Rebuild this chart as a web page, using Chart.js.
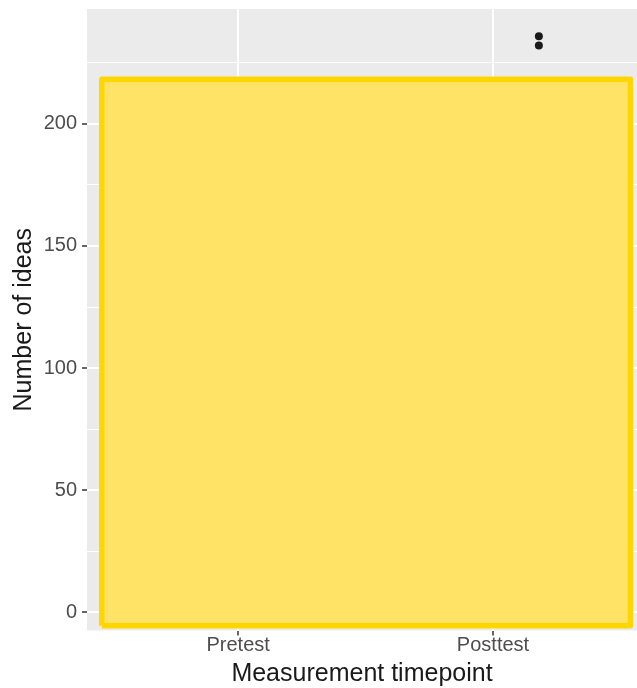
<!DOCTYPE html>
<html>
<head>
<meta charset="utf-8">
<script src="https://cdn.jsdelivr.net/npm/chart.js@4"></script>
<style>
  html, body { margin: 0; padding: 0; background: #fff; }
  canvas { display: block; }
</style>
</head>
<body>
<canvas id="chart" width="637" height="688"></canvas>
<script>
// categories on the x axis
const categories = ['Pretest', 'Posttest'];
const categoryPos = [1, 2];
// labelled y ticks
const yTickValues = [0, 50, 100, 150, 200];
// outlier points (Posttest)
const outlierX = [2.18, 2.18];
const outlierY = [235.8, 232.1];
// yellow box: x extent and y extent
const boxX = [0.465, 2.539];
const boxY = [-5.5, 218.2];

const panelGrey = '#EBEBEB';
const boxFill = 'rgb(255,227,102)';
const boxLine = 'rgb(255,214,0)';
const font = 'Liberation Sans, Arial, sans-serif';

// minor grid lines sit half way between the labelled ticks
const yGrid = [];
yTickValues.forEach(v => { yGrid.push(v); yGrid.push(v + 25); });

const panelBg = {
  id: 'panelBg',
  beforeDraw(chart) {
    const a = chart.chartArea;
    const c = chart.ctx;
    c.save();
    c.fillStyle = panelGrey;
    c.fillRect(a.left, a.top, a.right - a.left, a.bottom - a.top);
    c.restore();
  }
};

const ctx = document.getElementById('chart');

new Chart(ctx, {
  type: 'line',
  data: {
    datasets: [{
      // outliers, on top
      data: outlierX.map((x, i) => ({ x: x, y: outlierY[i] })),
      showLine: false,
      pointRadius: 4,
      pointBackgroundColor: '#1a1a1a',
      pointBorderWidth: 0
    }, {
      // box outline
      data: [
        { x: boxX[0], y: boxY[0] }, { x: boxX[0], y: boxY[1] },
        { x: boxX[1], y: boxY[1] }, { x: boxX[1], y: boxY[0] },
        { x: boxX[0], y: boxY[0] }
      ],
      borderColor: boxLine,
      borderWidth: 5.5,
      borderJoinStyle: 'round',
      pointRadius: 0,
      fill: false
    }, {
      // box fill
      data: [{ x: boxX[0], y: boxY[1] }, { x: boxX[1], y: boxY[1] }],
      borderWidth: 0,
      pointRadius: 0,
      backgroundColor: boxFill,
      fill: { value: boxY[0] }
    }]
  },
  options: {
    responsive: false,
    animation: false,
    devicePixelRatio: 1,
    layout: { autoPadding: false, padding: { top: 9, right: 0, left: 0, bottom: 0 } },
    plugins: {
      legend: { display: false },
      tooltip: { enabled: false }
    },
    scales: {
      x: {
        type: 'linear',
        min: 0.407,
        max: 2.565,
        afterBuildTicks: s => { s.ticks = categoryPos.map(v => ({ value: v })); },
        afterFit: s => { s.height = 57.5; s.paddingLeft = 0; s.paddingRight = 0; },
        ticks: {
          autoSkip: false,
          maxRotation: 0,
          padding: 0,
          color: '#4d4d4d',
          font: { family: font, size: 20, lineHeight: 1 },
          callback: v => categories[categoryPos.indexOf(v)]
        },
        grid: {
          color: '#ffffff',
          lineWidth: 2,
          tickLength: 5,
          tickColor: '#333333',
          tickWidth: 1.5
        },
        border: { display: false },
        title: {
          display: true,
          text: 'Measurement timepoint',
          color: '#1a1a1a',
          font: { family: font, size: 25, lineHeight: 1 },
          padding: { top: 0, bottom: 1.5 }
        }
      },
      y: {
        type: 'linear',
        min: -7.4,
        max: 247,
        afterBuildTicks: s => { s.ticks = yGrid.map(v => ({ value: v })); },
        afterFit: s => { s.width = 87; s.paddingTop = 0; s.paddingBottom = 0; },
        ticks: {
          autoSkip: false,
          padding: 5,
          color: '#4d4d4d',
          font: { family: font, size: 20, lineHeight: 1 },
          callback: v => yTickValues.includes(v) ? String(v) : ''
        },
        grid: {
          color: '#ffffff',
          lineWidth: c => yTickValues.includes(c.tick.value) ? 2 : 1,
          tickLength: 5,
          tickColor: c => yTickValues.includes(c.tick.value) ? '#333333' : 'rgba(0,0,0,0)',
          tickWidth: 1.5
        },
        border: { display: false },
        title: {
          display: true,
          text: 'Number of ideas',
          color: '#1a1a1a',
          font: { family: font, size: 25, lineHeight: 1 },
          padding: { top: 11.5, bottom: 0 }
        }
      }
    }
  },
  plugins: [panelBg]
});
</script>
</body>
</html>
